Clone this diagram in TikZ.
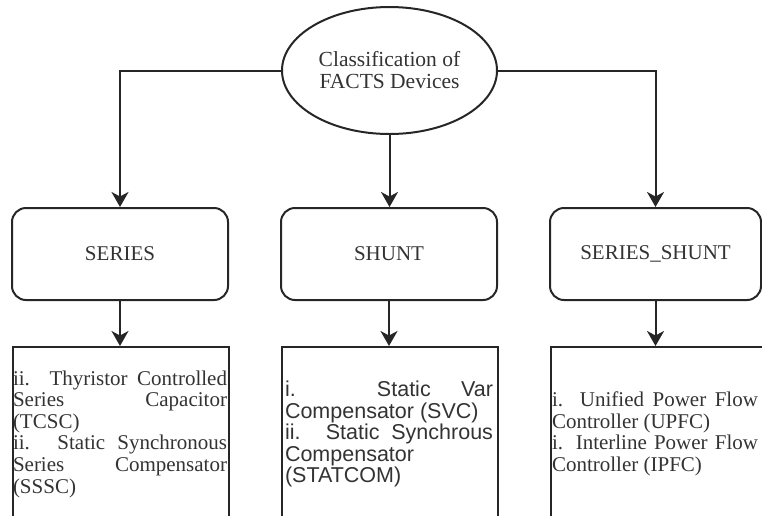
\documentclass[tikz,border=0pt]{standalone}
\usepackage{fontspec}
\setmainfont{Liberation Serif}
\newfontfamily\arialfont{Liberation Sans}
\usetikzlibrary{shapes.geometric,arrows.meta}
\newcommand\jset{\tolerance=10000 \hbadness=10000 \hyphenpenalty=10000 \relax}
\begin{document}
\begin{tikzpicture}[x=1pt,y=-1pt,
  ln/.style={draw=black!85, line width=2pt},
  arr/.style={ln, -{Stealth[length=15pt,width=17pt,inset=4.5pt]}},
  cat/.style={ln, rounded corners=14pt, minimum height=92pt, inner sep=0pt, text=black!80, font=\fontsize{21}{22}\selectfont},
  listbox/.style={ln, inner sep=0pt, anchor=north west, minimum height=180pt},
  listtext/.style={inner sep=0pt, align=justify, text=black!80, font=\fontsize{21}{21.6}\selectfont}]
\useasboundingbox (0,0) rectangle (762,515);
\node[ellipse, ln, minimum width=215pt, minimum height=127pt, inner sep=0pt, align=center, text=black!80, font=\fontsize{21.5}{22}\selectfont] (root) at (389.5,70.5) {Classification of\\FACTS Devices};
\node[cat, minimum width=216pt] (s1) at (120,254) {SERIES};
\node[cat, minimum width=216pt] (s2) at (389,254) {SHUNT};
\node[cat, minimum width=211pt] (s3) at (655.5,254) {SERIES\_SHUNT};
\node[listbox, minimum width=216pt] (b1) at (12,346) {};
\node[listbox, minimum width=216pt] (b2) at (281,346) {};
\node[listbox, minimum width=220pt] (b3) at (550,346) {};
\node[listtext, text width=214pt] (t1) at (120,434) {\jset ii. Thyristor Controlled\linebreak Series Capacitor\linebreak (TCSC)\\ii. Static Synchronous\linebreak Series Compensator\linebreak (SSSC)};
\node[listtext, text width=208pt, font=\arialfont\fontsize{21.5}{21.5}\selectfont] (t2) at (389,434) {\jset i. Static Var\linebreak Compensator (SVC)\\ii. Static Synchrous\linebreak Compensator\\(STATCOM)};
\node[listtext, text width=206pt] (t3) at (655,434) {\jset i. Unified Power Flow\linebreak Controller (UPFC)\\i. Interline Power Flow\linebreak Controller (IPFC)};
\draw[arr] (root.west) -| (s1.north);
\draw[arr] (root.east) -| (s3.north);
\draw[arr] (root.south) -- (root.south |- s2.north);
\draw[arr] (s1.south) -- (s1.south |- b1.north);
\draw[arr] (s2.south) -- (s2.south |- b2.north);
\draw[arr] (s3.south) -- (s3.south |- b3.north);
\end{tikzpicture}
\end{document}
